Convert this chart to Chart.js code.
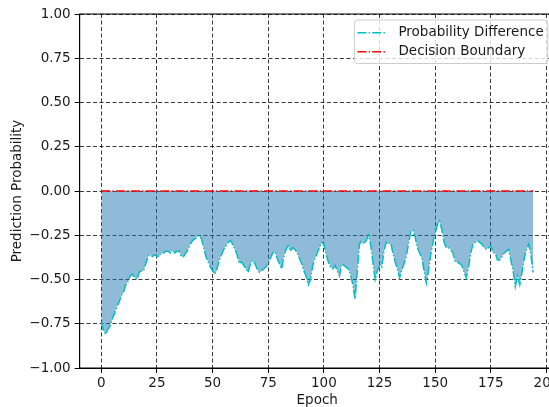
<!DOCTYPE html>
<html>
<head>
<meta charset="utf-8">
<script src="https://cdn.jsdelivr.net/npm/chart.js@4"></script>
<style>
  html, body { margin: 0; padding: 0; overflow: hidden; background: #fff; }
</style>
</head>
<body>
<canvas id="chart" width="575" height="410"></canvas>
<script>
// probability difference per epoch (epoch 0..194)
const probDiff = [
  -0.74, -0.79, -0.81, -0.78, -0.76, -0.72, -0.69, -0.65, -0.63, -0.59,
  -0.57, -0.53, -0.51, -0.48, -0.47, -0.49, -0.50, -0.46, -0.45, -0.45,
  -0.41, -0.37, -0.36, -0.37, -0.36, -0.37, -0.37, -0.35, -0.35, -0.34,
  -0.34, -0.35, -0.33, -0.35, -0.34, -0.34, -0.37, -0.37, -0.35, -0.33,
  -0.30, -0.28, -0.27, -0.26, -0.25, -0.27, -0.32, -0.37, -0.40, -0.43,
  -0.45, -0.47, -0.44, -0.39, -0.36, -0.33, -0.31, -0.29, -0.28, -0.30,
  -0.33, -0.36, -0.41, -0.40, -0.42, -0.44, -0.46, -0.41, -0.39, -0.41,
  -0.44, -0.46, -0.45, -0.44, -0.43, -0.41, -0.38, -0.35, -0.34, -0.38,
  -0.41, -0.44, -0.37, -0.33, -0.31, -0.34, -0.32, -0.33, -0.35, -0.38,
  -0.41, -0.45, -0.48, -0.53, -0.50, -0.42, -0.38, -0.35, -0.32, -0.29,
  -0.30, -0.36, -0.40, -0.43, -0.44, -0.42, -0.45, -0.48, -0.41, -0.42,
  -0.43, -0.44, -0.47, -0.53, -0.61, -0.45, -0.30, -0.28, -0.30, -0.28,
  -0.25, -0.30, -0.40, -0.50, -0.45, -0.42, -0.43, -0.34, -0.29, -0.30,
  -0.29, -0.35, -0.40, -0.44, -0.49, -0.45, -0.41, -0.37, -0.30, -0.23,
  -0.22, -0.26, -0.32, -0.35, -0.38, -0.45, -0.52, -0.45, -0.36, -0.29,
  -0.24, -0.19, -0.17, -0.22, -0.29, -0.32, -0.32, -0.33, -0.35, -0.40,
  -0.40, -0.41, -0.42, -0.46, -0.49, -0.43, -0.35, -0.30, -0.29, -0.28,
  -0.29, -0.30, -0.32, -0.33, -0.32, -0.31, -0.35, -0.35, -0.39, -0.39,
  -0.37, -0.35, -0.34, -0.33, -0.39, -0.45, -0.54, -0.48, -0.53, -0.46,
  -0.38, -0.33, -0.30, -0.36, -0.46
];
const epochs = probDiff.map((_, i) => i);
const boundary = epochs.map(() => 0);

const xTicks = [0, 25, 50, 75, 100, 125, 150, 175, 200];
const yTicks = [-1, -0.75, -0.5, -0.25, 0, 0.25, 0.5, 0.75, 1];

const FONT = '"DejaVu Sans", sans-serif';
Chart.defaults.font.family = FONT;
Chart.defaults.font.size = 13.5;
Chart.defaults.color = '#1a1a1a';

const dashDot = [9, 2.2, 1.4, 2.2];

const grid = {
  color: 'rgba(0,0,0,0.78)',
  lineWidth: 1,
  tickLength: 5,
  tickColor: '#000',
  tickWidth: 1,
  tickBorderDash: []
};
const border = { display: true, color: '#000', width: 1, dash: [4, 2.5] };

// box around the plot area plus the legend in the upper right corner
const frameAndLegend = {
  id: 'frameAndLegend',
  afterDatasetsDraw(chart) {
    const { ctx, chartArea: ca } = chart;
    ctx.save();
    ctx.strokeStyle = '#000';
    ctx.lineWidth = 1;
    ctx.strokeRect(ca.left, ca.top, ca.right - ca.left, ca.bottom - ca.top);
    ctx.restore();
  },
  afterDraw(chart) {
    const { ctx, chartArea: ca } = chart;
    const sets = chart.data.datasets;
    ctx.save();
    ctx.font = '13.5px ' + FONT;
    const textW = Math.max(...sets.map(d => ctx.measureText(d.label).width));
    const right = ca.right - 7;
    const left = right - (textW + 48);
    const top = ca.top + 6;
    const h = 43.5;
    ctx.beginPath();
    ctx.roundRect(left, top, right - left, h, 3);
    ctx.fillStyle = 'rgba(255,255,255,0.8)';
    ctx.fill();
    ctx.strokeStyle = '#cccccc';
    ctx.lineWidth = 1;
    ctx.stroke();
    const rows = [top + 12.7, top + 31.7];
    const order = ['Probability Difference', 'Decision Boundary'];
    order.forEach((label, i) => {
      const d = sets.find(s => s.label === label);
      const y = rows[i];
      ctx.beginPath();
      ctx.setLineDash(dashDot);
      ctx.strokeStyle = d.borderColor;
      ctx.lineWidth = d.borderWidth;
      ctx.moveTo(left + 3, y);
      ctx.lineTo(left + 31, y);
      ctx.stroke();
      ctx.setLineDash([]);
      ctx.fillStyle = '#1a1a1a';
      ctx.textBaseline = 'middle';
      ctx.textAlign = 'left';
      ctx.fillText(label, left + 44, y);
    });
    ctx.restore();
  }
};

const minus = v => (v < 0 ? '\u2212' : '') + Math.abs(v).toFixed(2);

new Chart(document.getElementById('chart'), {
  type: 'line',
  data: {
    datasets: [
      {
        label: 'Probability Difference',
        data: epochs.map((e, i) => ({ x: e, y: probDiff[i] })),
        borderColor: '#00bfbf',
        borderWidth: 1.5,
        borderDash: dashDot,
        backgroundColor: 'rgba(31,119,180,0.5)',
        fill: 'origin',
        pointRadius: 0,
        tension: 0,
        order: 1
      },
      {
        label: 'Decision Boundary',
        data: epochs.map((e, i) => ({ x: e, y: boundary[i] })),
        borderColor: '#ff0000',
        borderWidth: 1.5,
        borderDash: dashDot,
        fill: false,
        pointRadius: 0,
        tension: 0,
        order: 0
      }
    ]
  },
  options: {
    responsive: false,
    animation: false,
    events: [],
    layout: { padding: { top: 14, right: 20.3, left: 0, bottom: 0 } },
    plugins: { legend: { display: false }, tooltip: { enabled: false } },
    scales: {
      x: {
        type: 'linear',
        min: -9.7,
        max: 203.7,
        afterBuildTicks: s => { s.ticks = xTicks.map(v => ({ value: v })); },
        afterFit: s => { s.height = 42; },
        ticks: { padding: 2, maxRotation: 0, callback: v => String(v) },
        grid,
        border,
        title: { display: true, text: 'Epoch', padding: { top: 0, bottom: 1.5 } }
      },
      y: {
        min: -1,
        max: 1,
        afterBuildTicks: s => { s.ticks = yTicks.map(v => ({ value: v })); },
        afterFit: s => { s.width = 79.7; },
        ticks: { padding: 4, callback: minus },
        grid,
        border,
        title: { display: true, text: 'Prediction Probability', padding: { top: 9.4, bottom: 0 } }
      }
    }
  },
  plugins: [frameAndLegend]
});
</script>
</body>
</html>
